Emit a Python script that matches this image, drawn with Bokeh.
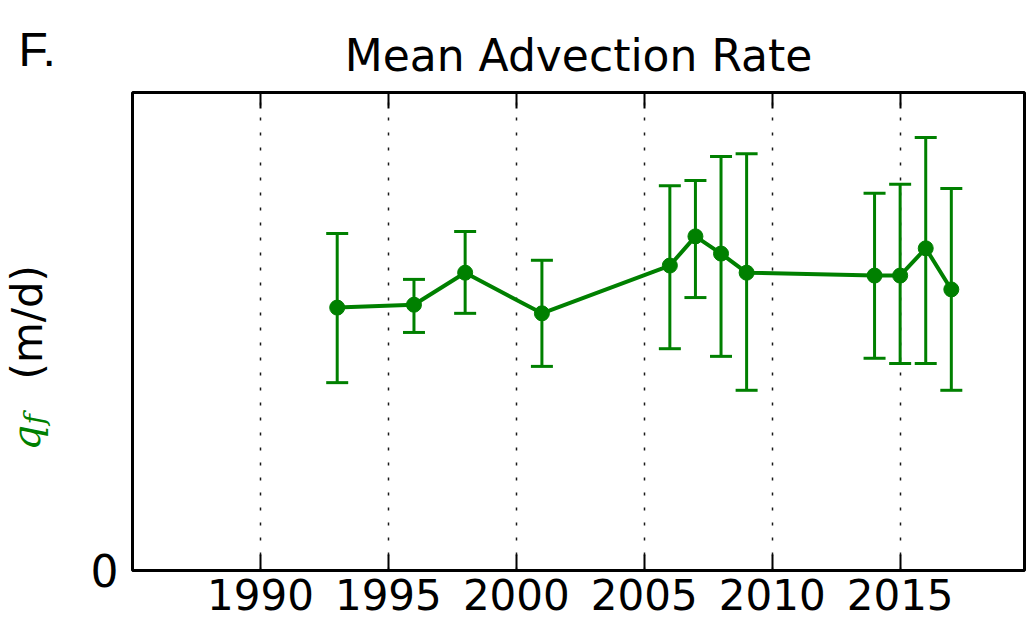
import math
from bokeh.plotting import figure
from bokeh.layouts import row
from bokeh.models import (FixedTicker, LinearAxis, Whisker, TeeHead,
                          ColumnDataSource, Range1d)
from bokeh.core.properties import value
from bokeh.embed import file_html
from bokeh.resources import INLINE

# ---- data (arbitrary units, 0 at the axis) ----
years = [1993, 1996, 1998, 2001, 2006, 2007, 2008, 2009, 2014, 2015, 2016, 2017]
qf = [0.550, 0.556, 0.623, 0.538, 0.638, 0.699, 0.663, 0.623, 0.617, 0.617, 0.674, 0.588]
qf_lower = [0.393, 0.498, 0.538, 0.427, 0.464, 0.571, 0.448, 0.377, 0.444, 0.433, 0.433, 0.377]
qf_upper = [0.705, 0.609, 0.709, 0.649, 0.805, 0.816, 0.866, 0.872, 0.789, 0.808, 0.906, 0.799]
x_ticks = [1990, 1995, 2000, 2005, 2010, 2015]
y_ticks = [0]
title_text = "Mean Advection Rate"
panel_letter = "F."
ylabel_var = "q"
ylabel_sub = "f"
ylabel_unit = "(m/d)"

GREEN = "#008000"
X0, X1 = 1985, 2019.86
W, H = 1027, 628
WL = 64           # narrow left strip holding the panel letter and y label
TOP, BOTTOM = 92, 58
FRAME_H = H - TOP - BOTTOM

# ---------------- main chart ----------------
p = figure(width=W - WL, height=H, title=title_text,
           x_range=Range1d(X0, X1), y_range=Range1d(0, 1.0),
           output_backend="svg", toolbar_location=None,
           min_border_left=68, min_border_right=3, min_border_top=TOP,
           min_border_bottom=BOTTOM,
           background_fill_color="white", border_fill_color="white")

p.title.text_font = "DejaVu Sans"
p.title.text_font_size = "44px"
p.title.text_font_style = "normal"
p.title.text_color = "black"
p.title.align = "center"
p.title.offset = 8
p.title.standoff = 23

p.outline_line_color = "black"
p.outline_line_width = 3
p.outline_line_alpha = 1.0

p.xgrid.ticker = FixedTicker(ticks=x_ticks)
p.xgrid.grid_line_color = "black"
p.xgrid.grid_line_dash = "3 12"
p.xgrid.grid_line_width = 1.5
p.xgrid.grid_line_alpha = 0.9
p.ygrid.visible = False

xa = p.xaxis[0]
xa.ticker = FixedTicker(ticks=x_ticks)
xa.major_label_text_font = "DejaVu Sans"
xa.major_label_text_font_size = "42px"
xa.major_label_text_color = "black"
xa.major_tick_in = 16
xa.major_tick_out = 0
xa.major_tick_line_width = 2
xa.major_tick_line_color = "black"
xa.minor_tick_line_color = None
xa.axis_line_color = None
xa.major_label_standoff = 8

top = LinearAxis(ticker=FixedTicker(ticks=x_ticks),
                 major_label_text_font_size="0px",
                 major_label_text_color=None,
                 major_tick_in=16, major_tick_out=0,
                 major_tick_line_width=2, major_tick_line_color="black",
                 minor_tick_line_color=None, axis_line_color=None,
                 major_label_standoff=0)
p.add_layout(top, "above")

ya = p.yaxis[0]
ya.ticker = FixedTicker(ticks=y_ticks)
ya.major_label_text_font = "DejaVu Sans"
ya.major_label_text_font_size = "44px"
ya.major_label_text_color = "black"
ya.major_tick_in = 16
ya.major_tick_out = 0
ya.major_tick_line_width = 2
ya.minor_tick_line_color = None
ya.axis_line_color = None
ya.major_label_standoff = 14

src = ColumnDataSource(dict(year=years, qf=qf, lower=qf_lower, upper=qf_upper))
wh = Whisker(source=src, base="year", upper="upper", lower="lower",
             line_color=GREEN, line_width=3,
             upper_head=TeeHead(size=22, line_color=GREEN, line_width=3),
             lower_head=TeeHead(size=22, line_color=GREEN, line_width=3))
p.add_layout(wh)
p.line("year", "qf", source=src, line_color=GREEN, line_width=4)
p.scatter("year", "qf", source=src, marker="circle", size=15,
          fill_color=GREEN, line_color=GREEN)

# ---------------- left strip: panel letter + y-axis label ----------------
# its frame spans the same vertical band as the main frame (TOP .. H-BOTTOM),
# y in this strip = pixels above the frame bottom
pl = figure(width=WL, height=H, title=panel_letter,
            x_range=Range1d(0, WL), y_range=Range1d(0, FRAME_H),
            x_axis_type=None, y_axis_type=None,
            output_backend="svg", toolbar_location=None,
            min_border_left=0, min_border_right=0,
            min_border_top=TOP, min_border_bottom=BOTTOM,
            outline_line_color=None,
            background_fill_color="white", border_fill_color="white")
pl.title.text_font = "Liberation Sans"
pl.title.text_font_size = "48px"
pl.title.text_font_style = "normal"
pl.title.text_color = "black"
pl.title.align = "left"
pl.title.vertical_align = "top"
pl.title.offset = 18
pl.title.standoff = 29

base = H - BOTTOM
pl.text(x=[27], y=[base - 379], text=[ylabel_unit], angle=math.pi / 2,
        text_font=value("DejaVu Sans"), text_font_size="42px",
        text_align="left", text_baseline="alphabetic", text_color="black")
pl.text(x=[25], y=[base - 450], text=[ylabel_var], angle=math.pi / 2,
        text_font=value("DejaVu Serif"), text_font_style="italic",
        text_font_size="40px",
        text_align="left", text_baseline="alphabetic", text_color=GREEN)
pl.text(x=[34], y=[base - 424], text=[ylabel_sub], angle=math.pi / 2,
        text_font=value("DejaVu Serif"), text_font_style="italic",
        text_font_size="28px",
        text_align="left", text_baseline="alphabetic", text_color=GREEN)

layout = row(pl, p)
open("out.html", "w").write(file_html(layout, INLINE))
